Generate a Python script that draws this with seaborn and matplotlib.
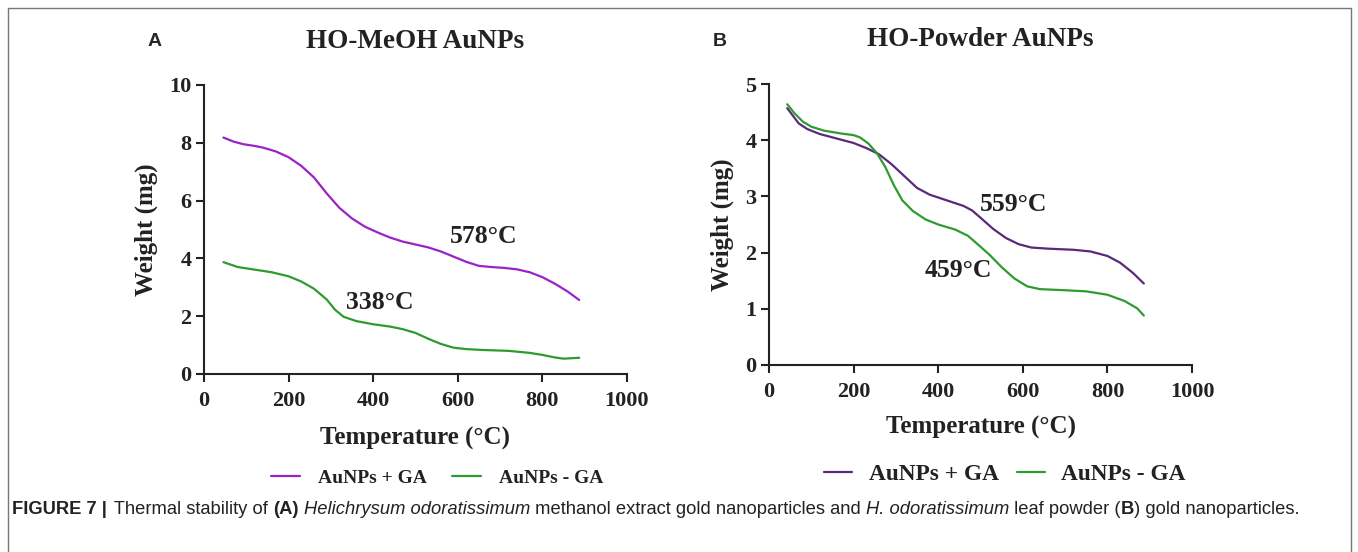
import numpy as np
import pandas as pd
import matplotlib
matplotlib.use("Agg")
import matplotlib.pyplot as plt
import seaborn as sns
from matplotlib.lines import Line2D

# ---------------- data ----------------
temp_a_plus = [46, 70, 93, 120, 140, 170, 200, 230, 260, 290, 320, 350, 380, 410, 440, 470, 500, 530, 560, 590, 620, 650, 680, 710, 740, 770, 800, 830, 860, 887]
wt_a_plus = [8.18, 8.04, 7.95, 7.89, 7.83, 7.70, 7.50, 7.20, 6.80, 6.25, 5.75, 5.38, 5.10, 4.90, 4.72, 4.58, 4.48, 4.38, 4.24, 4.06, 3.88, 3.74, 3.70, 3.67, 3.62, 3.52, 3.35, 3.12, 2.85, 2.56]
temp_a_minus = [46, 80, 120, 160, 200, 230, 260, 290, 310, 330, 360, 400, 440, 470, 500, 530, 560, 590, 620, 660, 720, 770, 800, 830, 850, 887]
wt_a_minus = [3.87, 3.70, 3.61, 3.52, 3.38, 3.20, 2.95, 2.58, 2.22, 1.98, 1.83, 1.72, 1.64, 1.55, 1.42, 1.22, 1.04, 0.91, 0.86, 0.83, 0.80, 0.73, 0.66, 0.57, 0.53, 0.56]

temp_b_plus = [43, 55, 70, 90, 120, 160, 200, 230, 260, 290, 320, 350, 380, 420, 460, 480, 500, 530, 560, 590, 620, 660, 720, 760, 800, 830, 860, 886]
wt_b_plus = [4.57, 4.45, 4.30, 4.20, 4.11, 4.03, 3.95, 3.86, 3.75, 3.57, 3.36, 3.15, 3.03, 2.93, 2.83, 2.75, 2.62, 2.42, 2.26, 2.15, 2.09, 2.07, 2.05, 2.02, 1.94, 1.82, 1.64, 1.45]
temp_b_minus = [43, 60, 80, 100, 130, 170, 200, 215, 235, 255, 275, 295, 315, 340, 370, 400, 440, 470, 490, 520, 550, 580, 610, 640, 700, 750, 800, 840, 870, 886]
wt_b_minus = [4.64, 4.48, 4.33, 4.24, 4.17, 4.12, 4.09, 4.05, 3.94, 3.77, 3.52, 3.20, 2.93, 2.74, 2.59, 2.50, 2.41, 2.30, 2.17, 1.97, 1.74, 1.54, 1.40, 1.35, 1.33, 1.31, 1.25, 1.14, 1.01, 0.88]

series_names = ["AuNPs + GA", "AuNPs - GA"]
titles = ["HO-MeOH AuNPs", "HO-Powder AuNPs"]
panel_letters = ["A", "B"]
x_ticks = [0, 200, 400, 600, 800, 1000]
y_ticks_a = [0, 2, 4, 6, 8, 10]
y_ticks_b = [0, 1, 2, 3, 4, 5]
annot_a = [("578°C", 660, 4.74), ("338°C", 416, 2.46)]
annot_b = [("559°C", 577, 2.85), ("459°C", 447, 1.69)]
caption_bold = "FIGURE 7 |"

colors_a = {"AuNPs + GA": "#9a22c8", "AuNPs - GA": "#2e9b2e"}
colors_b = {"AuNPs + GA": "#5a2a78", "AuNPs - GA": "#2e9b2e"}

def make_df(tp, wp, tm, wm):
    return pd.concat([
        pd.DataFrame({"T": tp, "W": wp, "S": series_names[0]}),
        pd.DataFrame({"T": tm, "W": wm, "S": series_names[1]}),
    ], ignore_index=True)

df_a = make_df(temp_a_plus, wt_a_plus, temp_a_minus, wt_a_minus)
df_b = make_df(temp_b_plus, wt_b_plus, temp_b_minus, wt_b_minus)

sns.set_theme(style="ticks")
plt.rcParams["font.family"] = ["Liberation Serif", "DejaVu Serif"]

fig = plt.figure(figsize=(13.58, 5.52), dpi=100)
ax_a = fig.add_axes([0.1502, 0.3225, 0.3115, 0.5236])
ax_b = fig.add_axes([0.5663, 0.3388, 0.3115, 0.5090])

def style_ax(ax, df, colors, yticks, ymax, annots, tick_fs, lab_fs, ann_fs, xpad):
    sns.lineplot(data=df, x="T", y="W", hue="S", palette=colors, ax=ax,
                 legend=False, linewidth=1.6, sort=True, estimator=None)
    for ln in ax.get_lines():
        ln.set_solid_joinstyle("round")
        ln.set_solid_capstyle("round")
    ax.set_xlim(0, 1000)
    ax.set_ylim(0, ymax)
    ax.set_xticks(x_ticks)
    ax.set_yticks(yticks)
    for s in ["top", "right"]:
        ax.spines[s].set_visible(False)
    for s in ["left", "bottom"]:
        ax.spines[s].set_linewidth(1.5)
        ax.spines[s].set_color("#222222")
    ax.tick_params(axis="both", direction="out", length=6, width=1.5,
                   colors="#222222", labelsize=tick_fs)
    ax.tick_params(axis="x", pad=6)
    ax.tick_params(axis="y", pad=3)
    for lab in ax.get_xticklabels() + ax.get_yticklabels():
        lab.set_fontweight("bold")
        lab.set_color("#222222")
    ax.set_xlabel("Temperature (°C)", fontsize=lab_fs, fontweight="bold", labelpad=xpad, color="#222222")
    ax.set_ylabel("Weight (mg)", fontsize=lab_fs, fontweight="bold", labelpad=8, color="#222222")
    for txt, x, y in annots:
        ax.text(x, y, txt, fontsize=ann_fs, fontweight="bold", ha="center", va="center", color="#222222")

style_ax(ax_a, df_a, colors_a, y_ticks_a, 10, annot_a, 16, 18, 18.5, 11.5)
style_ax(ax_b, df_b, colors_b, y_ticks_b, 5, annot_b, 16, 18, 18.5, 10.5)

# titles and panel letters
fig.text(415 / 1358, 1 - 42 / 552, titles[0], fontsize=19.5, fontweight="bold", ha="center", va="center", color="#222222")
fig.text(980 / 1358, 1 - 40 / 552, titles[1], fontsize=19.5, fontweight="bold", ha="center", va="center", color="#222222")
fig.text(155 / 1358, 1 - 42 / 552, panel_letters[0], fontsize=14, fontweight="bold", ha="center", va="center",
         family=["Liberation Sans", "DejaVu Sans"])
fig.text(720 / 1358, 1 - 42 / 552, panel_letters[1], fontsize=14, fontweight="bold", ha="center", va="center",
         family=["Liberation Sans", "DejaVu Sans"])

# legends
def add_legend(colors, center_x, y, fs, hl, tp, cs):
    handles = [Line2D([0], [0], color=colors[n], lw=1.6) for n in series_names]
    leg = fig.legend(handles, series_names, loc="center", bbox_to_anchor=(center_x / 1358, 1 - y / 552),
                     ncol=2, frameon=False, handlelength=hl, columnspacing=cs, handletextpad=tp,
                     prop={"family": "Liberation Serif", "weight": "bold", "size": fs})
    for t in leg.get_texts():
        t.set_color("#222222")

add_legend(colors_a, 437, 478, 14, 1.5, 0.9, 1.3)
add_legend(colors_b, 1005, 474, 16.8, 1.2, 0.7, 0.77)

# border (left, top, right)
bx0, bx1, by0 = 8 / 1358, 1351 / 1358, 1 - 8 / 552
fig.add_artist(Line2D([bx0, bx0, bx1, bx1], [0, by0, by0, 0], transform=fig.transFigure,
                      color="#777777", lw=1.0))

# caption
cap_y = 1 - 509 / 552
cap_fs = 13.2
t1 = fig.text(12 / 1358, cap_y, caption_bold, fontsize=cap_fs, fontweight="bold", ha="left", va="center",
              family=["Liberation Sans", "DejaVu Sans"], color="#222222")
fig.canvas.draw()
renderer = fig.canvas.get_renderer()
x = t1.get_window_extent(renderer).x1 + 2
segments = [(" Thermal stability of ", "normal", "normal"), ("(A)", "bold", "normal"), (" ", "normal", "normal"),
            ("Helichrysum odoratissimum", "normal", "italic"),
            (" methanol extract gold nanoparticles and ", "normal", "normal"),
            ("H. odoratissimum", "normal", "italic"), (" leaf powder (", "normal", "normal"),
            ("B", "bold", "normal"), (") gold nanoparticles.", "normal", "normal")]
for s, w, st in segments:
    t = fig.text(x / 1358, cap_y, s, fontsize=cap_fs, fontweight=w, style=st, ha="left", va="center",
                 family=["Liberation Sans", "DejaVu Sans"], color="#222222")
    x = t.get_window_extent(renderer).x1

fig.savefig("out.png", dpi=100)
